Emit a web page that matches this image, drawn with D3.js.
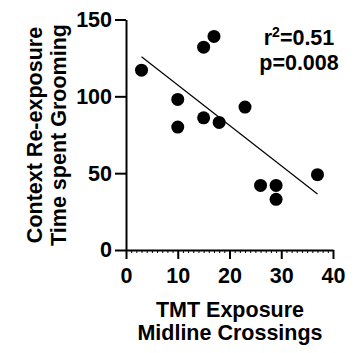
<!DOCTYPE html>
<html>
<head>
<meta charset="utf-8">
<script src="https://cdn.jsdelivr.net/npm/d3@7"></script>
<style>
  body { margin: 0; background: #fff; }
  svg text { font-family: "Liberation Sans", Arial, sans-serif; font-weight: bold; }
</style>
</head>
<body>
<div id="chart"></div>
<script>
// TMT exposure midline crossings vs. time spent grooming on re-exposure
const crossings = [3, 10, 10, 15, 17, 15, 18, 23, 26, 29, 29, 37];
const grooming = [117, 98, 80, 132, 139, 86, 83, 93, 42, 42, 33, 49];
const xTicks = [0, 10, 20, 30, 40];
const yTicks = [0, 50, 100, 150];
const statLines = ["r2=0.51", "p=0.008"];

const width = 360, height = 353;
const margin = { left: 126, right: 27, top: 19.5, bottom: 103 };

const svg = d3.select("#chart").append("svg")
  .attr("width", width)
  .attr("height", height);

const x = d3.scaleLinear().domain([0, 40]).range([margin.left, width - margin.right]);
const y = d3.scaleLinear().domain([0, 150]).range([height - margin.bottom, margin.top]);

// minor ticks on x, every unit
const minor = d3.range(0, 41, 1).filter(v => v % 10 !== 0);
svg.append("g")
  .attr("transform", `translate(0,${y(0)})`)
  .call(d3.axisBottom(x).tickValues(minor).tickSize(3).tickFormat(""))
  .call(g => g.select(".domain").remove())
  .call(g => g.selectAll("line").attr("stroke-width", 1));

const xAxis = svg.append("g")
  .attr("transform", `translate(0,${y(0)})`)
  .call(d3.axisBottom(x).tickValues(xTicks).tickSize(9).tickSizeOuter(0).tickPadding(9));

const yAxis = svg.append("g")
  .attr("transform", `translate(${x(0)},0)`)
  .call(d3.axisLeft(y).tickValues(yTicks).tickSize(11).tickSizeOuter(0).tickPadding(3));

[xAxis, yAxis].forEach(ax => {
  ax.selectAll(".domain, line").attr("stroke", "#000").attr("stroke-width", 2);
  ax.selectAll("text").attr("font-size", 21.5).attr("fill", "#000");
});

// regression line
const n = crossings.length;
const mx = d3.mean(crossings), my = d3.mean(grooming);
let sxy = 0, sxx = 0;
for (let i = 0; i < n; i++) {
  sxy += (crossings[i] - mx) * (grooming[i] - my);
  sxx += (crossings[i] - mx) ** 2;
}
const slope = sxy / sxx, icpt = my - slope * mx;
const [x0, x1] = d3.extent(crossings);
svg.append("line")
  .attr("x1", x(x0)).attr("y1", y(icpt + slope * x0))
  .attr("x2", x(x1)).attr("y2", y(icpt + slope * x1))
  .attr("stroke", "#000").attr("stroke-width", 1.2);

svg.append("g").selectAll("circle")
  .data(crossings.map((c, i) => ({ c, g: grooming[i] })))
  .join("circle")
  .attr("cx", d => x(d.c))
  .attr("cy", d => y(d.g))
  .attr("r", 6.5)
  .attr("fill", "#000");

// stats
const r2 = svg.append("text").attr("x", 299).attr("y", 45)
  .attr("text-anchor", "middle").attr("font-size", 21.5);
r2.append("tspan").text("r");
r2.append("tspan").text("2").attr("font-size", 14).attr("dy", -8);
r2.append("tspan").text(statLines[0].slice(2)).attr("dy", 8);
svg.append("text").attr("x", 299).attr("y", 70)
  .attr("text-anchor", "middle").attr("font-size", 21.5)
  .text(statLines[1]);

// axis titles
const xTitle = svg.append("text").attr("text-anchor", "middle").attr("font-size", 21.5);
xTitle.append("tspan").attr("x", 230).attr("y", 317).text("TMT Exposure");
xTitle.append("tspan").attr("x", 230).attr("y", 340).text("Midline Crossings");

const yTitle = svg.append("text").attr("text-anchor", "middle").attr("font-size", 21.5)
  .attr("transform", "translate(0,135) rotate(-90)");
yTitle.append("tspan").attr("x", 0).attr("y", 42).text("Context Re-exposure");
yTitle.append("tspan").attr("x", 0).attr("y", 66).text("Time spent Grooming");
</script>
</body>
</html>
